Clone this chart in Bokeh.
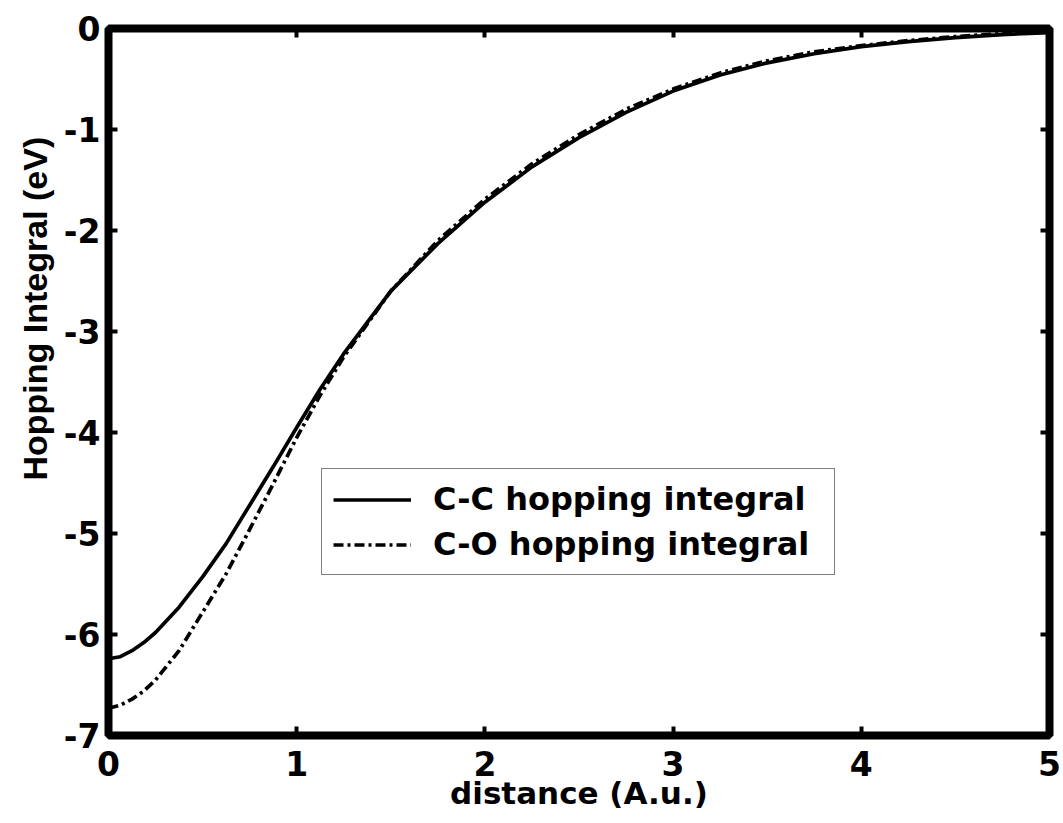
from bokeh.plotting import figure
from bokeh.models import (Range1d, LinearAxis, FixedTicker, Legend, LegendItem, Title)
from bokeh.embed import file_html
from bokeh.resources import INLINE

# ---- data ----
distance = [0.0, 0.0625, 0.125, 0.1875, 0.25, 0.375, 0.5, 0.625, 0.75, 0.875, 1.0, 1.125, 1.25,
            1.5, 1.75, 2.0, 2.25, 2.5, 2.75, 3.0, 3.25, 3.5, 3.75, 4.0, 4.25, 4.5, 4.75, 5.0]
cc_hopping = [-6.24, -6.22, -6.16, -6.08, -5.98, -5.73, -5.43, -5.10, -4.72, -4.34, -3.95, -3.57, -3.22,
              -2.60, -2.13, -1.72, -1.37, -1.08, -0.83, -0.62, -0.46, -0.34, -0.25, -0.18, -0.13,
              -0.09, -0.06, -0.04]
co_hopping = [-6.73, -6.70, -6.64, -6.56, -6.45, -6.16, -5.78, -5.40, -4.96, -4.51, -4.05, -3.63, -3.25,
              -2.60, -2.10, -1.69, -1.34, -1.05, -0.80, -0.60, -0.44, -0.32, -0.23, -0.17, -0.12,
              -0.08, -0.05, -0.03]
x_ticks = [0, 1, 2, 3, 4, 5]
x_tick_labels = ["0", "1", "2", "3", "4", "5"]
y_ticks = [-7, -6, -5, -4, -3, -2, -1, 0]
y_tick_labels = ["-7", "-6", "-5", "-4", "-3", "-2", "-1", "0"]
series_names = ["C-C hopping integral", "C-O hopping integral"]
x_label = "distance (A.u.)"
y_label = "Hopping Integral (eV)"

FONT = "DejaVu Sans"

p = figure(frame_width=941, frame_height=707, output_backend="svg", toolbar_location=None,
           x_range=Range1d(0, 5), y_range=Range1d(-7, 0),
           min_border_left=108, min_border_top=28, min_border_right=14, min_border_bottom=88)
p.background_fill_color = "white"
p.border_fill_color = "white"
p.outline_line_color = "black"
p.outline_line_width = 8
p.xgrid.visible = False
p.ygrid.visible = False

p.add_layout(LinearAxis(), "above")
p.add_layout(LinearAxis(), "right")

for ax in p.xaxis:
    ax.ticker = FixedTicker(ticks=x_ticks)
    ax.major_label_overrides = dict(zip(x_ticks, x_tick_labels))
for ax in p.yaxis:
    ax.ticker = FixedTicker(ticks=y_ticks)
    ax.major_label_overrides = dict(zip(y_ticks, y_tick_labels))

for ax in p.axis:
    ax.axis_line_color = None
    ax.major_tick_in = 9
    ax.major_tick_out = 0
    ax.major_tick_line_width = 4
    ax.major_tick_line_color = "black"
    ax.minor_tick_line_color = None
    ax.major_label_text_font = FONT
    ax.major_label_text_font_style = "bold"
    ax.major_label_text_font_size = "33px"
    ax.major_label_text_color = "black"

for ax in [p.above[0], p.right[0]]:
    ax.major_label_text_font_size = "0px"
    ax.major_label_text_color = None
    ax.major_label_standoff = 0

p.below[0].major_label_standoff = 15
p.left[0].major_label_standoff = 8

p.below[0].axis_label = x_label
p.below[0].axis_label_text_font = FONT
p.below[0].axis_label_text_font_style = "bold"
p.below[0].axis_label_text_font_size = "31px"
p.below[0].axis_label_text_color = "black"
p.below[0].axis_label_standoff = -4

r1 = p.line(distance, cc_hopping, line_color="black", line_width=3.7)
r2 = p.line(distance, co_hopping, line_color="black", line_width=3.7, line_dash="10 4 3 4")

ytitle = Title(text=y_label, align="left", offset=255, text_font="Liberation Sans",
               text_font_style="bold", text_font_size="34px", text_color="black",
               standoff=14)
p.add_layout(ytitle, "left")

legend = Legend(items=[LegendItem(label=series_names[0], renderers=[r1]),
                       LegendItem(label=series_names[1], renderers=[r2])],
                location=(213, 160))
legend.label_text_font = FONT
legend.label_text_font_style = "bold"
legend.label_text_font_size = "32px"
legend.label_text_color = "black"
legend.glyph_width = 78
legend.glyph_height = 33
legend.label_height = 33
legend.label_width = 390
legend.spacing = 7
legend.padding = 11
legend.margin = 0
legend.label_standoff = 22
legend.border_line_color = "black"
legend.border_line_width = 1
legend.background_fill_color = "white"
legend.background_fill_alpha = 1
p.add_layout(legend)

open("out.html", "w").write(file_html(p, INLINE))
